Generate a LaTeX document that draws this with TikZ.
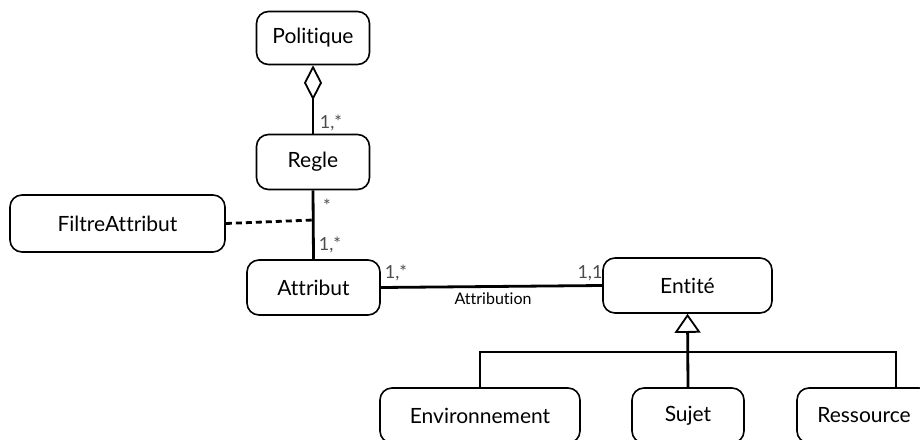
\documentclass[tikz,border=0pt]{standalone}
\usepackage{fontspec}
\setmainfont{Lato}[Ligatures=NoCommon]
\usepackage{tikz}
\usetikzlibrary{arrows.meta}

\begin{document}
\begin{tikzpicture}
        [%%%%%%%%%%%%%%%%%%%%%%%%%%%%%%
        x=1pt, y=-1pt,
        box/.style={draw=black, line width=1.6pt, rounded corners=12pt, inner sep=0pt,
          font=\fontsize{21}{25}\selectfont},
        link/.style={line width=2.8pt},
        card/.style={text=black!70, font=\fontsize{18}{20}\selectfont},
        ]%%%%%%%%%%%%%%%%%%%%%%%%%%%%%%
        \useasboundingbox (0,0) rectangle (920,439);
        % Boxes
        \node[box, minimum width=113pt, minimum height=53pt] (pol) at (313,38) {Politique};
        \node[box, minimum width=113pt, minimum height=55pt] (regle) at (313,162) {Regle};
        \node[box, minimum width=215pt, minimum height=57pt] (filtre) at (117.5,223.5) {FiltreAttribut};
        \node[box, minimum width=133pt, minimum height=55pt] (attr) at (313.5,287.5) {Attribut};
        \node[box, minimum width=169pt, minimum height=55pt] (ent) at (687.5,285.5) {Entité};
        \node[box, minimum width=200pt, minimum height=55pt] (env) at (480,415.5) {Environnement};
        \node[box, minimum width=112pt, minimum height=55pt] (suj) at (688,415.5) {Sujet};
        \node[box, minimum width=134pt, minimum height=55pt] (res) at (864,415.5) {Ressource};
        % Helper points
        \coordinate (mid) at (313,220);
        \coordinate (barL) at (480,352);
        \coordinate (barR) at (896,352);
        \coordinate (resIn) at (896,388);
        % Lines
        \draw[link, -{Diamond[open, length=35pt, width=18pt, line width=1.8pt]}] (regle.north) -- (pol.south);
        \draw[link] (regle.south) -- (attr.north);
        \draw[link, dashed, dash pattern=on 6pt off 4pt] (filtre.east) -- (mid);
        \draw[link] (attr.east) -- (ent.west);
        \draw[link, -{Triangle[open, length=19pt, width=26pt, line width=1.8pt]}] (suj.north) -- (ent.south);
        \draw[link] (env.north) -- (barL) -- (barR) -- (resIn);
        % Text
        \node[card] (c1) at (331,123) {1,*};
        \node[card] (c2) at (327,206) {*};
        \node[card] (c3) at (330,245) {1,*};
        \node[card] (c4) at (396,273) {1,*};
        \node[card] (c5) at (590,273) {1,1};
        \node[font=\fontsize{16}{18}\selectfont] (assoc) at (493,299) {Attribution};
      \end{tikzpicture}
\end{document}
